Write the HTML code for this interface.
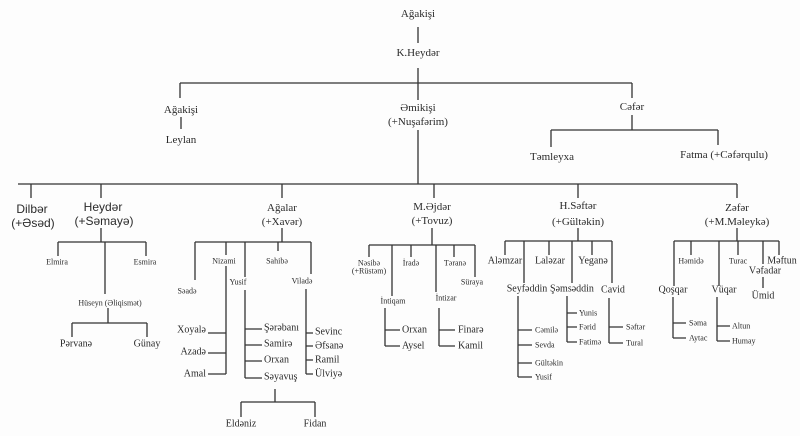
<!DOCTYPE html>
<html><head><meta charset="utf-8"><style>
html,body{margin:0;padding:0;background:#fff;}
svg{display:block;}
text{font-family:"Liberation Serif","DejaVu Serif",serif;fill:#2a2a2a;text-anchor:middle;dominant-baseline:central;}
.a{font-size:11px;}
.b{font-size:12px;font-family:"Liberation Sans",sans-serif;}
.c{font-size:10px;}
.s{font-size:8px;}
.l{text-anchor:start;}
.e{text-anchor:end;}
path{stroke:#333;stroke-width:1.3;fill:none;}
</style></head><body>
<svg width="800" height="436" viewBox="0 0 800 436" xmlns="http://www.w3.org/2000/svg">
<rect width="800" height="436" fill="#fdfdfd"/>
<!-- top -->
<text class="a" x="418" y="14">Ağakişi</text>
<path d="M418 27V43"/>
<text class="a" x="418" y="53">K.Heydər</text>
<path d="M418 68V83M180 83H632M180 83V98M418 83V100M632 83V98"/>
<text class="a" x="181" y="110">Ağakişi</text>
<path d="M181 117V129"/>
<text class="a" x="181" y="140">Leylan</text>
<text class="a" x="418" y="108">Əmikişi</text>
<text class="a" x="418" y="122">(+Nuşafərim)</text>
<text class="a" x="632" y="107">Cəfər</text>
<path d="M632 115V130M551 130H718M551 130V147M718 130V145"/>
<text class="a" x="552" y="157">Təmleyxa</text>
<text class="a" x="724" y="155">Fatma (+Cəfərqulu)</text>
<path d="M418 130V184M18 184H737M31 184V198M101 184V198M282 184V198M434 184V198M578 184V198M737 184V198"/>
<!-- Dilber -->
<text class="b" x="32" y="209">Dilbər</text>
<text class="b" x="33" y="223">(+Əsəd)</text>
<!-- Heyder -->
<text class="b" x="103" y="207">Heydər</text>
<text class="b" x="104" y="221">(+Səmayə)</text>
<path d="M101 228V242M58 242H146M58 242V256M146 242V256M105 242V294"/>
<text class="s" x="57" y="262">Elmira</text>
<text class="s" x="145" y="262">Esmira</text>
<text class="s" x="110" y="303">Hüseyn (Əliqismət)</text>
<path d="M108 308V323M72 323H147M72 323V337M147 323V337"/>
<text class="c" x="76" y="344">Pərvanə</text>
<text class="c" x="147" y="344">Günay</text>
<!-- Agalar -->
<text class="a" x="282" y="208">Ağalar</text>
<text class="a" x="282" y="222">(+Xavər)</text>
<path d="M282 228V242M195 242H311M195 242V280M226 242V255M245 242V277M278 242V251M311 242V274"/>
<text class="s" x="187" y="291">Səadə</text>
<text class="s" x="224" y="261">Nizami</text>
<path d="M226 266V374M208 333H226M208 353H226M208 374H226"/>
<text class="c e" x="206" y="330">Xoyalə</text>
<text class="c e" x="206" y="352">Azadə</text>
<text class="c e" x="206" y="374">Amal</text>
<text class="s" x="238" y="282">Yusif</text>
<path d="M245 290V378M245 329H262M245 345H262M245 361H262M245 378H262"/>
<text class="c l" x="264" y="328">Şərəbanı</text>
<text class="c l" x="264" y="344">Samirə</text>
<text class="c l" x="264" y="360">Orxan</text>
<text class="c l" x="264" y="377">Səyavuş</text>
<path d="M275 389V402M241 402H315M241 402V417M315 402V417"/>
<text class="c" x="241" y="424">Eldəniz</text>
<text class="c" x="315" y="424">Fidan</text>
<text class="s" x="277" y="261">Sahibə</text>
<text class="s" x="302" y="281">Viladə</text>
<path d="M306 289V374M306 333H313M306 346H313M306 360H313M306 374H313"/>
<text class="c l" x="315" y="332">Sevinc</text>
<text class="c l" x="315" y="346">Əfsanə</text>
<text class="c l" x="315" y="360">Ramil</text>
<text class="c l" x="315" y="374">Ülviyə</text>
<!-- M.Ejder -->
<text class="a" x="432" y="207">M.Əjdər</text>
<text class="a" x="432" y="221">(+Tovuz)</text>
<path d="M432 228V245M369 245H475M369 245V257M392 245V296M411 245V257M436 245V292M454 245V257M475 245V277"/>
<text class="s" x="369" y="263">Nəsibə</text>
<text class="s" x="369" y="271">(+Rüstəm)</text>
<text class="s" x="411" y="263">İradə</text>
<text class="s" x="455" y="263">Təranə</text>
<text class="s" x="472" y="282">Süraya</text>
<text class="s" x="393" y="301">İntiqam</text>
<text class="s" x="446" y="298">İntizar</text>
<path d="M385 308V346M385 330H400M385 346H400M439 308V346M439 330H455M439 346H455"/>
<text class="c l" x="402" y="330">Orxan</text>
<text class="c l" x="402" y="346">Aysel</text>
<text class="c l" x="458" y="330">Finarə</text>
<text class="c l" x="458" y="346">Kamil</text>
<!-- H.Seftar -->
<text class="a" x="578" y="206">H.Səftər</text>
<text class="a" x="578" y="222">(+Gültəkin)</text>
<path d="M578 228V241M505 241H612M505 241V255M524 241V283M549 241V255M572 241V283M592 241V255M612 241V283"/>
<text class="c" x="505" y="261">Aləmzar</text>
<text class="c" x="550" y="261">Laləzar</text>
<text class="c" x="593" y="261">Yeganə</text>
<text class="c" x="527" y="289">Seyfəddin</text>
<text class="c" x="572" y="289">Şəmsəddin</text>
<text class="c" x="613" y="290">Cavid</text>
<path d="M518 296V377M518 330H532M518 345H532M518 363H532M518 377H532"/>
<text class="s l" x="535" y="330">Cəmilə</text>
<text class="s l" x="535" y="345">Sevda</text>
<text class="s l" x="535" y="363">Gültəkin</text>
<text class="s l" x="535" y="377">Yusif</text>
<path d="M567 296V342M567 313H577M567 327H577M567 342H577"/>
<text class="s l" x="579" y="313">Yunis</text>
<text class="s l" x="579" y="327">Fərid</text>
<text class="s l" x="579" y="342">Fatimə</text>
<path d="M609 298V343M609 327H623M609 343H623"/>
<text class="s l" x="626" y="327">Səftər</text>
<text class="s l" x="626" y="343">Tural</text>
<!-- Zefer -->
<text class="a" x="737" y="208">Zəfər</text>
<text class="a" x="737" y="222">(+M.Məleykə)</text>
<path d="M737 228V241M674 241H779M674 241V286M691 241V255M719 241V286M738 241V255M763 241V264M779 241V255"/>
<text class="s" x="691" y="261">Həmidə</text>
<text class="s" x="738" y="261">Turac</text>
<text class="c" x="782" y="261">Məftun</text>
<text class="c" x="765" y="271">Vəfadar</text>
<path d="M763 277V288"/>
<text class="c" x="763" y="296">Ümid</text>
<text class="c" x="673" y="290">Qoşqar</text>
<text class="c" x="724" y="290">Vüqar</text>
<path d="M673 297V338M673 323H686M673 338H686M717 297V341M717 326H730M717 341H730"/>
<text class="s l" x="689" y="323">Səma</text>
<text class="s l" x="689" y="338">Aytac</text>
<text class="s l" x="732" y="326">Altun</text>
<text class="s l" x="732" y="341">Humay</text>
</svg>
</body></html>
